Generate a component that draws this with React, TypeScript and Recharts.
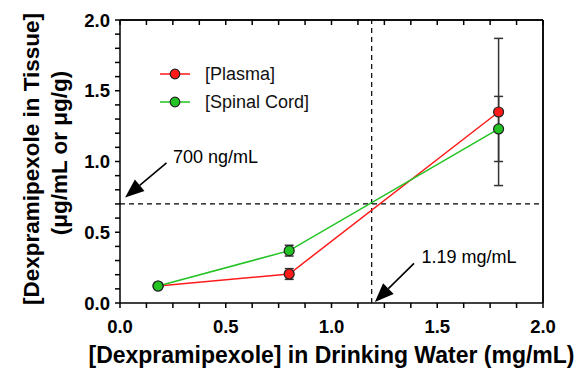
import React from 'react';
import { LineChart, Line, XAxis, YAxis, ErrorBar, ReferenceLine, ReferenceDot, Legend } from 'recharts';

const doses = [0.18, 0.8, 1.79];
const plasma = [0.12, 0.205, 1.35];
const plasmaErr = [0, 0.038, 0.52];
const spinal = [0.12, 0.37, 1.23];
const spinalErr = [0, 0.038, 0.23];
const seriesNames = ['[Plasma]', '[Spinal Cord]'];
const seriesColors = ['#ff1a1a', '#22c322'];

const xTicks = [0, 0.125, 0.25, 0.375, 0.5, 0.625, 0.75, 0.875, 1, 1.125, 1.25, 1.375, 1.5, 1.625, 1.75, 1.875, 2];
const yTicks = [0, 0.1, 0.2, 0.3, 0.4, 0.5, 0.6, 0.7, 0.8, 0.9, 1, 1.1, 1.2, 1.3, 1.4, 1.5, 1.6, 1.7, 1.8, 1.9, 2];

const thresholdConc = 0.7;
const thresholdDose = 1.19;
const concLabel = '700 ng/mL';
const doseLabel = '1.19 mg/mL';
const concArrow = [{ x: 0.22, y: 0.99 }, { x: 0.024, y: 0.746 }];
const concText = { x: 0.25, y: 1.03 };
const doseArrow = [{ x: 1.39, y: 0.28 }, { x: 1.205, y: 0.007 }];
const doseText = { x: 1.425, y: 0.325 };

const xTitle = '[Dexpramipexole] in Drinking Water (mg/mL)';
const yTitle1 = '[Dexpramipexole in Tissue]';
const yTitle2 = '(\u03BCg/mL or \u03BCg/g)';

const data = doses.map((d, i) => ({
  x: d,
  plasma: plasma[i],
  plasmaErr: plasmaErr[i],
  spinal: spinal[i],
  spinalErr: spinalErr[i],
}));

const FONT = '"Liberation Sans", Arial, sans-serif';
const isMajor = (v: number) => Math.abs(v * 2 - Math.round(v * 2)) < 1e-6;
const majorFmt = (v: number) => (isMajor(v) ? Number(v).toFixed(1) : '');
const noFmt = () => '';
const tickFont = { fontFamily: FONT, fontWeight: 'bold', fontSize: 18.5, fill: '#000' };

const Arrow = (p: any) => {
  const { x1, y1, x2, y2 } = p;
  const dx = x2 - x1;
  const dy = y2 - y1;
  const len = Math.sqrt(dx * dx + dy * dy);
  const ux = dx / len;
  const uy = dy / len;
  const hl = 19;
  const hw = 7.5;
  const bx = x2 - ux * hl;
  const by = y2 - uy * hl;
  const px = -uy;
  const py = ux;
  return (
    <g>
      <line x1={x1} y1={y1} x2={bx} y2={by} stroke="#000" strokeWidth={1.6} />
      <polygon
        points={`${x2},${y2} ${bx + px * hw},${by + py * hw} ${bx - px * hw},${by - py * hw}`}
        fill="#000"
      />
    </g>
  );
};

const makeText = (s: string) => (p: any) => (
  <text x={p.cx} y={p.cy} dominantBaseline="central" fontFamily={FONT} fontSize={18} fill="#000">
    {s}
  </text>
);

const LegendContent = () => (
  <div style={{ fontFamily: FONT, fontSize: 18, color: '#111' }}>
    {seriesNames.map((n, i) => (
      <div key={n} style={{ display: 'flex', alignItems: 'center', height: 28 }}>
        <svg width={47} height={14} style={{ display: 'block' }}>
          <line x1={2} x2={32} y1={7} y2={7} stroke={seriesColors[i]} strokeWidth={1.5} />
          <circle cx={17} cy={7} r={4.8} fill={seriesColors[i]} stroke="#222" strokeWidth={1.2} />
        </svg>
        <span style={{ lineHeight: '28px' }}>{n}</span>
      </div>
    ))}
  </div>
);

const XTitle = (p: any) => {
  const vb = p.viewBox;
  return (
    <text x={vb.x + vb.width / 2} y={vb.y + 60} textAnchor="middle" fontFamily={FONT} fontWeight="bold" fontSize={23} fill="#000">
      {xTitle}
    </text>
  );
};

const YTitle = () => (
  <g>
    <text x={39} y={159} transform="rotate(-90 39 159)" textAnchor="middle" fontFamily={FONT} fontWeight="bold" fontSize={22.5} fill="#000">
      {yTitle1}
    </text>
    <text x={67} y={153} transform="rotate(-90 67 153)" textAnchor="middle" fontFamily={FONT} fontWeight="bold" fontSize={22.5} fill="#000">
      {yTitle2}
    </text>
  </g>
);

export default function App() {
  return (
    <div style={{ position: 'absolute', left: 0, top: 0, width: 580, height: 369, background: '#fff' }}>
      <LineChart width={580} height={369} data={data} margin={{ top: 0, right: 0, bottom: 0, left: 0 }}>
        <XAxis
          dataKey="x"
          type="number"
          domain={[0, 2]}
          ticks={xTicks}
          interval={0}
          height={66}
          tickSize={5}
          tickMargin={12}
          tickFormatter={majorFmt}
          tick={tickFont}
          stroke="#000"
          tickLine={{ stroke: '#000', strokeWidth: 1.5 }}
          axisLine={{ stroke: '#000', strokeWidth: 1.5 }}
          label={<XTitle />}
        />
        <XAxis
          xAxisId="top"
          orientation="top"
          dataKey="x"
          type="number"
          domain={[0, 2]}
          ticks={xTicks}
          interval={0}
          height={20}
          tickSize={-5}
          tickFormatter={noFmt}
          stroke="#000"
          tickLine={{ stroke: '#000', strokeWidth: 1.5 }}
          axisLine={{ stroke: '#000', strokeWidth: 1.5 }}
        />
        <YAxis
          type="number"
          domain={[0, 2]}
          ticks={yTicks}
          interval={0}
          width={120}
          tickSize={5}
          tickMargin={5}
          tickFormatter={majorFmt}
          tick={tickFont}
          stroke="#000"
          tickLine={{ stroke: '#000', strokeWidth: 1.5 }}
          axisLine={{ stroke: '#000', strokeWidth: 1.5 }}
          label={<YTitle />}
        />
        <YAxis
          yAxisId="right"
          orientation="right"
          type="number"
          domain={[0, 2]}
          ticks={yTicks}
          interval={0}
          width={37}
          tickSize={-5}
          tickFormatter={noFmt}
          stroke="#000"
          tickLine={{ stroke: '#000', strokeWidth: 1.5 }}
          axisLine={{ stroke: '#000', strokeWidth: 1.5 }}
        />
        <ReferenceLine y={2} stroke="#000" strokeWidth={1.5} ifOverflow="visible" />
        <ReferenceLine x={2} stroke="#000" strokeWidth={1.5} ifOverflow="visible" />
        <ReferenceLine y={thresholdConc} stroke="#000" strokeWidth={1.2} strokeDasharray="5 4" />
        <ReferenceLine x={thresholdDose} stroke="#000" strokeWidth={1.2} strokeDasharray="5 4" />
        <ReferenceLine segment={concArrow} ifOverflow="visible" shape={Arrow} />
        <ReferenceLine segment={doseArrow} ifOverflow="visible" shape={Arrow} />
        <ReferenceDot x={concText.x} y={concText.y} r={0} ifOverflow="visible" shape={makeText(concLabel)} />
        <ReferenceDot x={doseText.x} y={doseText.y} r={0} ifOverflow="visible" shape={makeText(doseLabel)} />
        <Line
          dataKey="plasma"
          name={seriesNames[0]}
          stroke={seriesColors[0]}
          strokeWidth={1.5}
          isAnimationActive={false}
          dot={{ r: 5, fill: seriesColors[0], stroke: '#222', strokeWidth: 1.2 }}
          activeDot={false}
        >
          <ErrorBar dataKey="plasmaErr" direction="y" width={4.5} stroke="#333" strokeWidth={1.5} />
        </Line>
        <Line
          dataKey="spinal"
          name={seriesNames[1]}
          stroke={seriesColors[1]}
          strokeWidth={1.5}
          isAnimationActive={false}
          dot={{ r: 5, fill: seriesColors[1], stroke: '#222', strokeWidth: 1.2 }}
          activeDot={false}
        >
          <ErrorBar dataKey="spinalErr" direction="y" width={4.5} stroke="#333" strokeWidth={1.5} />
        </Line>
        <Legend
          layout="vertical"
          align="center"
          verticalAlign="middle"
          content={<LegendContent />}
          wrapperStyle={{ top: 60, left: 158, width: 200 }}
        />
      </LineChart>
    </div>
  );
}
